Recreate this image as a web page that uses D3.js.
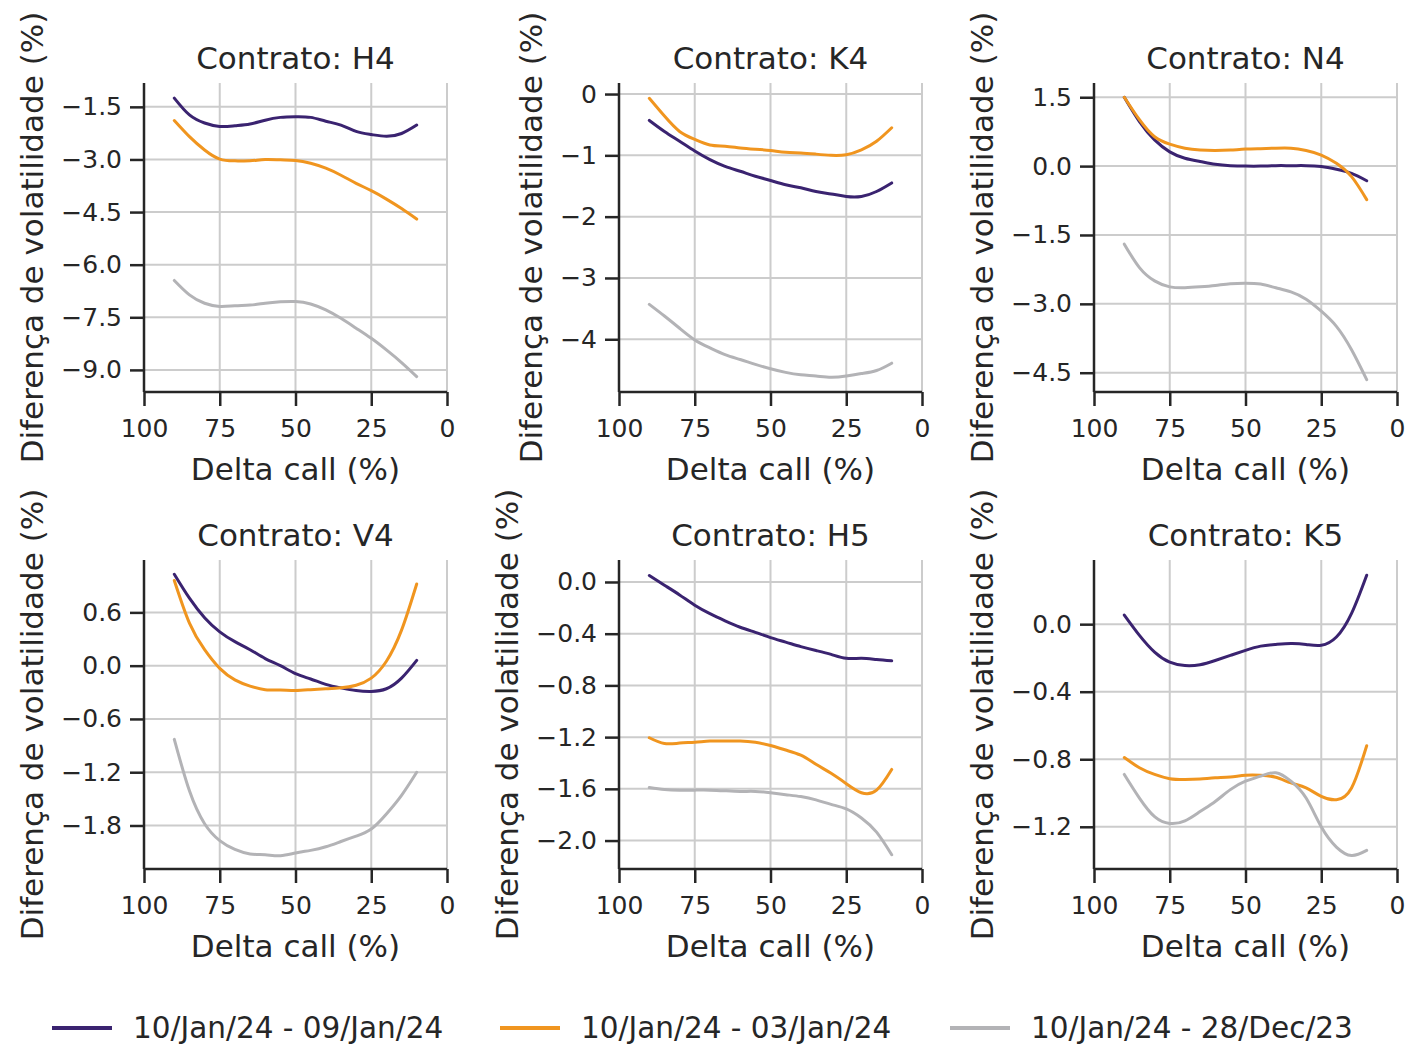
<!DOCTYPE html>
<html>
<head>
<meta charset="utf-8">
<script src="https://cdn.jsdelivr.net/npm/d3@7"></script>
<style>
  body { margin: 0; background: #fff; }
  text { font-family: "DejaVu Sans", sans-serif; fill: #262626; }
</style>
</head>
<body>
<svg id="chart" width="1415" height="1057"></svg>
<script>
// delta call (%) at which each curve is read
const deltas = [90, 85, 80, 75, 70, 65, 60, 55, 50, 45, 40, 35, 30, 25, 20, 15, 10];
const contracts = ["H4", "K4", "N4", "V4", "H5", "K5"];
const seriesLabels = ["10/Jan/24 - 09/Jan/24", "10/Jan/24 - 03/Jan/24", "10/Jan/24 - 28/Dec/23"];
const seriesColors = ["#3a2370", "#f0951f", "#b3b3b6"];

// volatility differences, one row per series (09/Jan, 03/Jan, 28/Dec)
const h4 = [
  [-1.25, -1.73, -1.96, -2.06, -2.04, -1.99, -1.88, -1.8, -1.78, -1.8, -1.91, -2.02, -2.2, -2.29, -2.34, -2.26, -2.02],
  [-1.89, -2.35, -2.73, -2.99, -3.04, -3.04, -3.0, -3.01, -3.03, -3.11, -3.25, -3.45, -3.68, -3.89, -4.13, -4.4, -4.7],
  [-6.45, -6.86, -7.1, -7.19, -7.17, -7.15, -7.1, -7.06, -7.05, -7.12, -7.29, -7.53, -7.81, -8.1, -8.43, -8.79, -9.19],
];
const k4 = [
  [-0.43, -0.61, -0.77, -0.93, -1.07, -1.18, -1.26, -1.34, -1.41, -1.48, -1.53, -1.59, -1.63, -1.67, -1.67, -1.59, -1.45],
  [-0.07, -0.36, -0.61, -0.74, -0.83, -0.85, -0.88, -0.9, -0.92, -0.95, -0.96, -0.98, -1.0, -0.99, -0.91, -0.77, -0.55],
  [-3.43, -3.62, -3.82, -4.01, -4.14, -4.25, -4.33, -4.41, -4.48, -4.54, -4.58, -4.6, -4.62, -4.6, -4.56, -4.51, -4.39],
];
const n4 = [
  [1.5, 0.97, 0.57, 0.31, 0.17, 0.1, 0.04, 0.01, 0.0, 0.0, 0.01, 0.01, 0.01, -0.01, -0.07, -0.16, -0.32],
  [1.5, 1.01, 0.64, 0.48, 0.39, 0.35, 0.34, 0.35, 0.37, 0.38, 0.39, 0.39, 0.34, 0.24, 0.06, -0.23, -0.73],
  [-1.7, -2.21, -2.5, -2.63, -2.65, -2.63, -2.6, -2.56, -2.55, -2.57, -2.65, -2.74, -2.9, -3.16, -3.49, -4.0, -4.65],
];
const v4 = [
  [1.03, 0.76, 0.54, 0.38, 0.27, 0.18, 0.08, 0.0, -0.09, -0.15, -0.21, -0.25, -0.28, -0.29, -0.26, -0.14, 0.06],
  [0.96, 0.48, 0.18, -0.03, -0.16, -0.23, -0.27, -0.275, -0.28, -0.27, -0.26, -0.25, -0.22, -0.14, 0.05, 0.4, 0.92],
  [-0.83, -1.41, -1.78, -1.97, -2.07, -2.12, -2.13, -2.14, -2.11, -2.08, -2.04, -1.98, -1.92, -1.84, -1.67, -1.46, -1.2],
];
const h5 = [
  [0.05, -0.025, -0.1, -0.18, -0.245, -0.3, -0.35, -0.39, -0.43, -0.465, -0.5, -0.53, -0.56, -0.59, -0.59, -0.6, -0.61],
  [-1.205, -1.25, -1.246, -1.24, -1.23, -1.23, -1.23, -1.24, -1.265, -1.3, -1.34, -1.41, -1.48, -1.56, -1.63, -1.61, -1.45],
  [-1.59, -1.605, -1.61, -1.61, -1.61, -1.615, -1.62, -1.62, -1.63, -1.645, -1.66, -1.685, -1.72, -1.755, -1.825, -1.935, -2.11],
];
const k5 = [
  [0.054, -0.066, -0.165, -0.225, -0.245, -0.24, -0.215, -0.185, -0.155, -0.13, -0.12, -0.115, -0.12, -0.125, -0.076, 0.064, 0.29],
  [-0.79, -0.85, -0.89, -0.915, -0.92, -0.917, -0.91, -0.905, -0.895, -0.895, -0.907, -0.94, -0.97, -1.02, -1.04, -0.97, -0.72],
  [-0.89, -1.03, -1.14, -1.18, -1.165, -1.11, -1.05, -0.98, -0.93, -0.9, -0.88, -0.93, -1.03, -1.2, -1.32, -1.37, -1.34],
];
const panelValues = [h4, k4, n4, v4, h5, k5];

const xTicks = [100, 75, 50, 25, 0];
const yTicks = [
  [-1.5, -3.0, -4.5, -6.0, -7.5, -9.0],
  [0, -1, -2, -3, -4],
  [1.5, 0.0, -1.5, -3.0, -4.5],
  [0.6, 0.0, -0.6, -1.2, -1.8],
  [0.0, -0.4, -0.8, -1.2, -1.6, -2.0],
  [0.0, -0.4, -0.8, -1.2],
];
const yFormats = [".1f", "d", ".1f", ".1f", ".1f", ".1f"];
const yDomains = [
  [-9.63, -0.82], [-4.86, 0.18], [-4.92, 1.81],
  [-2.29, 1.19], [-2.22, 0.17], [-1.45, 0.38],
];

// layout
const colLefts = [144, 619, 1094];
const rowTops = [83, 560];
const plotW = 303;
const plotH = 309;
const ink = "#262626";

const svg = d3.select("#chart");

contracts.forEach((name, i) => {
  const left = colLefts[i % 3];
  const top = rowTops[Math.floor(i / 3)];
  const g = svg.append("g").attr("transform", `translate(${left},${top})`);

  const x = d3.scaleLinear().domain([100, 0]).range([0, plotW]);
  const y = d3.scaleLinear().domain(yDomains[i]).range([plotH, 0]);

  // grid
  g.append("g")
    .selectAll("line")
    .data(xTicks)
    .join("line")
    .attr("x1", (d) => x(d))
    .attr("x2", (d) => x(d))
    .attr("y1", 0)
    .attr("y2", plotH)
    .attr("stroke", "#cccccc")
    .attr("stroke-width", 2);
  g.append("g")
    .selectAll("line")
    .data(yTicks[i])
    .join("line")
    .attr("x1", 0)
    .attr("x2", plotW)
    .attr("y1", (d) => y(d))
    .attr("y2", (d) => y(d))
    .attr("stroke", "#cccccc")
    .attr("stroke-width", 2);

  // curves
  const line = d3
    .line()
    .x((d) => x(d[0]))
    .y((d) => y(d[1]))
    .curve(d3.curveNatural);

  panelValues[i].forEach((vals, s) => {
    g.append("path")
      .datum(deltas.map((d, k) => [d, vals[k]]))
      .attr("d", line)
      .attr("fill", "none")
      .attr("stroke", seriesColors[s])
      .attr("stroke-width", 3)
      .attr("stroke-linecap", "round");
  });

  // axes
  const xAxis = g
    .append("g")
    .attr("transform", `translate(0,${plotH})`)
    .call(d3.axisBottom(x).tickValues(xTicks).tickSize(14).tickPadding(13).tickSizeOuter(0));
  const yAxis = g
    .append("g")
    .call(
      d3.axisLeft(y)
        .tickValues(yTicks[i])
        .tickFormat(d3.format(yFormats[i]))
        .tickSize(14)
        .tickPadding(8)
        .tickSizeOuter(0),
    );
  [xAxis, yAxis].forEach((a) => {
    a.select(".domain").attr("stroke", ink).attr("stroke-width", 2.5);
    a.selectAll(".tick line").attr("stroke", ink).attr("stroke-width", 2.5);
    a.selectAll(".tick text")
      .attr("font-size", 25)
      .attr("font-family", '"DejaVu Sans", sans-serif')
      .attr("fill", ink);
  });
  yAxis.select(".domain").attr("d", `M0,0V${plotH}`);
  xAxis.select(".domain").attr("d", `M0,0H${plotW}`);

  let minX = 0;
  yAxis.selectAll(".tick text").each(function () {
    minX = Math.min(minX, this.getBBox().x);
  });

  g.append("text")
    .attr("x", plotW / 2)
    .attr("y", -14)
    .attr("text-anchor", "middle")
    .attr("font-size", 31)
    .text(`Contrato: ${name}`);

  g.append("text")
    .attr("x", plotW / 2)
    .attr("y", plotH + 88)
    .attr("text-anchor", "middle")
    .attr("font-size", 31)
    .text("Delta call (%)");

  g.append("text")
    .attr("transform", `translate(${minX - 18},${plotH / 2}) rotate(-90)`)
    .attr("text-anchor", "middle")
    .attr("font-size", 31)
    .text("Diferença de volatilidade (%)");
});

// legend
const legendX = [52, 500, 950];
const legend = svg.append("g").attr("transform", "translate(0,1028)");
seriesLabels.forEach((label, s) => {
  legend.append("line")
    .attr("x1", legendX[s])
    .attr("x2", legendX[s] + 60)
    .attr("stroke", seriesColors[s])
    .attr("stroke-width", 4);
  legend.append("text")
    .attr("x", legendX[s] + 81)
    .attr("y", 10)
    .attr("font-size", 29.5)
    .text(label);
});
</script>
</body>
</html>
